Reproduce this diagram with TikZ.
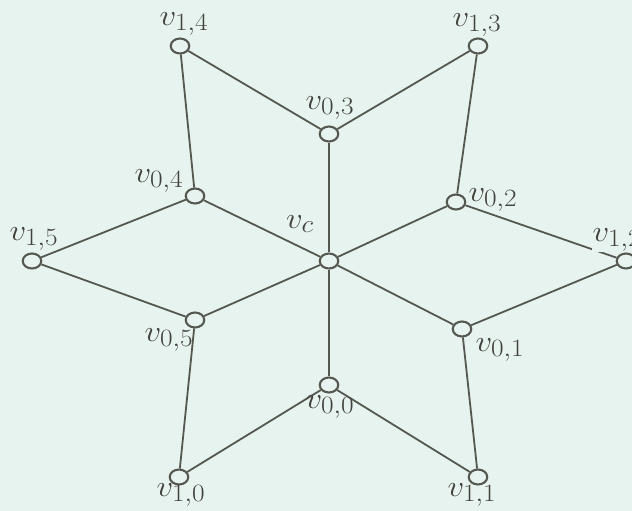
\documentclass[tikz,border=0pt]{standalone}
\usepackage{graphicx}
\usetikzlibrary{shapes.geometric}
\definecolor{bg}{RGB}{231,243,238}
\definecolor{ln}{RGB}{84,88,80}
\definecolor{tx}{RGB}{66,66,62}
\newcommand{\vlab}[1]{\scalebox{1.32}[1.2]{$#1$}}
\begin{document}
\begin{tikzpicture}[x=1pt,y=-1pt,
  vert/.style={ellipse,draw=ln,line width=2.1pt,fill=bg,minimum width=18.5pt,minimum height=15pt,inner sep=0pt},
  edge/.style={draw=ln,line width=1.8pt},
  lab/.style={text=tx,inner sep=0.5pt,font=\fontsize{24.88}{28}\selectfont},
  labc/.style={lab,fill=bg}]
\fill[bg] (0,0) rectangle (632,511);
\useasboundingbox (0,0) rectangle (632,511);
% vertices
\node[vert] (c)   at (329,261) {};
\node[vert] (a0)  at (329,385) {};
\node[vert] (a1)  at (462,329) {};
\node[vert] (a2)  at (456,202) {};
\node[vert] (a3)  at (329,134) {};
\node[vert] (a4)  at (195,196) {};
\node[vert] (a5)  at (195,320) {};
\node[vert] (b0)  at (179,477) {};
\node[vert] (b1)  at (478,477) {};
\node[vert] (b2)  at (626,261) {};
\node[vert] (b3)  at (478,46) {};
\node[vert] (b4)  at (180,46) {};
\node[vert] (b5)  at (32,261) {};
% edges
\foreach \i in {0,...,5} {\draw[edge] (c) -- (a\i);}
\draw[edge] (a0) -- (b0); \draw[edge] (a0) -- (b1);
\draw[edge] (a1) -- (b1); \draw[edge] (a1) -- (b2);
\draw[edge] (a2) -- (b2); \draw[edge] (a2) -- (b3);
\draw[edge] (a3) -- (b3); \draw[edge] (a3) -- (b4);
\draw[edge] (a4) -- (b4); \draw[edge] (a4) -- (b5);
\draw[edge] (a5) -- (b5); \draw[edge] (a5) -- (b0);
% labels
\node[lab] (lc)  at (300,224) {\vlab{v_c}};
\node[lab] (l00) at (330,407) {\vlab{v_{0,0}}};
\node[lab] (l01) at (500,350) {\vlab{v_{0,1}}};
\node[lab] (l02) at (493,200) {\vlab{v_{0,2}}};
\node[lab] (l03) at (330,108) {\vlab{v_{0,3}}};
\node[lab] (l04) at (159,181) {\vlab{v_{0,4}}};
\node[lab] (l05) at (169,340) {\vlab{v_{0,5}}};
\node[lab] (l10) at (181,495) {\vlab{v_{1,0}}};
\node[lab] (l11) at (472,495) {\vlab{v_{1,1}}};
\node[labc] (l12) at (617,240) {\vlab{v_{1,2}}};
\node[lab] (l13) at (477,25) {\vlab{v_{1,3}}};
\node[lab] (l14) at (184,24) {\vlab{v_{1,4}}};
\node[lab] (l15) at (34,239) {\vlab{v_{1,5}}};
\end{tikzpicture}
\end{document}
